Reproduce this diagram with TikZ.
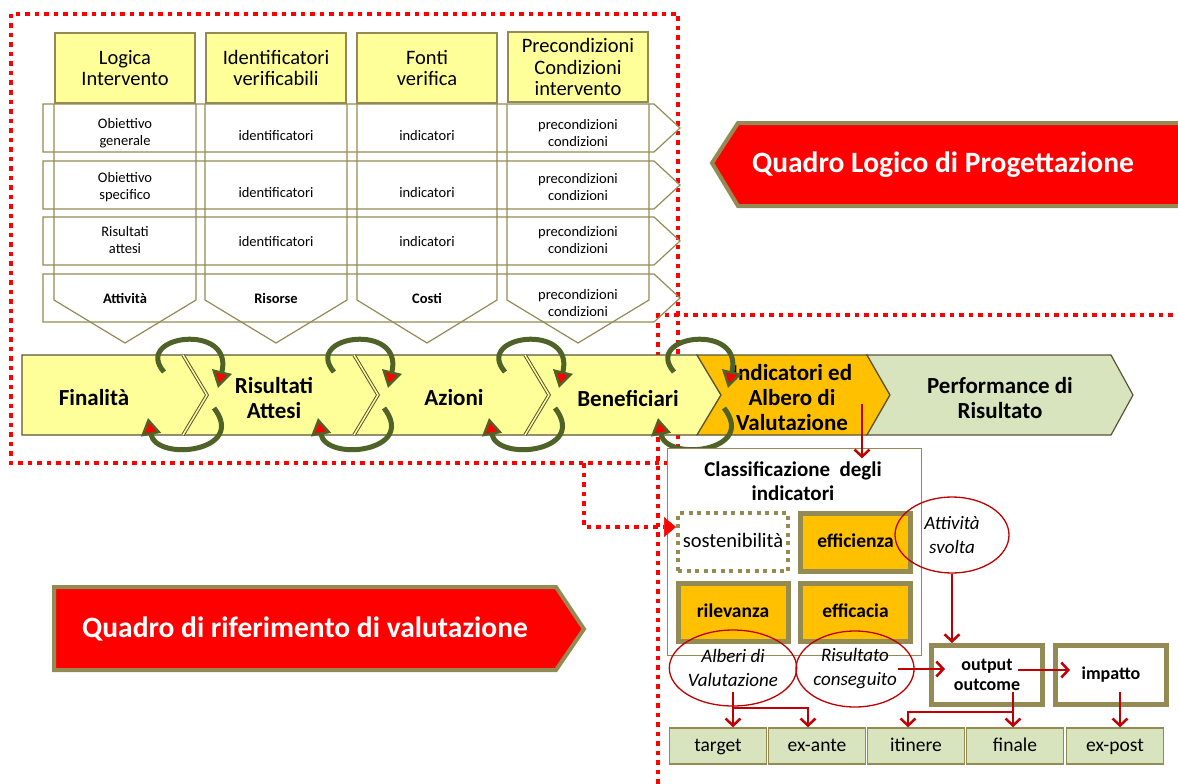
\documentclass[tikz,border=0pt]{standalone}
\usepackage{fontspec}
\setmainfont{Carlito}
\usetikzlibrary{positioning, calc, arrows.meta, shapes.geometric}
\definecolor{olive}{RGB}{148,138,84}
\definecolor{paleyellow}{RGB}{255,255,153}
\definecolor{amber}{RGB}{255,192,0}
\definecolor{sage}{RGB}{215,228,189}
\definecolor{darkred}{RGB}{192,0,0}
\definecolor{loopgreen}{RGB}{79,98,40}
\definecolor{bandline}{RGB}{89,84,56}
\newcommand{\fsz}[2]{\fontsize{#1pt}{#2pt}\selectfont}

\begin{document}
\begin{tikzpicture}[x=1pt, y=-1pt,
      head/.style={draw=olive, line width=2pt, fill=paleyellow, minimum width=140pt, minimum height=70pt, inner sep=1pt, align=center, font=\fsz{20.5}{21.5}},
      cell/.style={align=center, font=\fsz{14.5}{17}},
      rule/.style={draw=olive, line width=1.2pt},
      band/.style={align=center, font=\bfseries\fsz{23}{25}},
      phase/.style={draw=bandline, line width=1.2pt},
      tile/.style={draw=olive, line width=5pt, fill=amber, minimum width=110pt, minimum height=58pt, text height=13pt, text depth=3pt, font=\bfseries\fsz{19.5}{22}},
      oval/.style={draw=darkred, line width=1.3pt, ellipse, minimum width=114pt, minimum height=76pt, inner sep=0pt, align=center, font=\itshape\fsz{19}{24}},
      stage/.style={draw=olive, line width=5pt, fill=white, minimum width=111pt, minimum height=59pt, align=center, font=\bfseries\fsz{18}{20}},
      leaf/.style={draw=olive, line width=1.5pt, fill=sage, minimum width=97pt, minimum height=36pt, text height=13pt, text depth=3pt, font=\fsz{19.5}{22}},
      redframe/.style={draw=red, line width=4pt, dash pattern=on 4.5pt off 5pt},
      swirl/.style={draw=loopgreen, line width=5pt, -{Triangle[length=17pt, width=20pt, fill=red, line width=2.5pt]}},
      arrow/.style={draw=darkred, line width=2.5pt, -{Straight Barb[length=7pt, width=15pt]}},
      banner/.style={draw=olive, line width=4pt, fill=red},
      bannertext/.style={text=white, font=\bfseries\fsz{29.5}{32}}
    ]
    \useasboundingbox (0,0) rectangle (1178,784);

    % Dotted frames
    \draw[redframe] (11,14) rectangle (678,463);
    \draw[redframe] (1182,315) -- (658,315) -- (658,788);

    % Logical framework columns and rows
    \draw[rule] (54,104) -- (54,300) -- (125,343) -- (196,300) -- (196,104);
    \draw[rule] (205,104) -- (205,300) -- (276,343) -- (347,300) -- (347,104);
    \draw[rule] (357,104) -- (357,300) -- (427,343) -- (497,300) -- (497,104);
    \draw[rule] (507,104) -- (507,300) -- (578,343) -- (649,300) -- (649,104);
    \draw[rule] (43,104) -- (654,104) -- (680,128) -- (654,152) -- (43,152) -- cycle;
    \draw[rule] (43,161) -- (654,161) -- (680,185) -- (654,209) -- (43,209) -- cycle;
    \draw[rule] (43,217) -- (654,217) -- (680,241) -- (654,265) -- (43,265) -- cycle;
    \draw[rule] (43,274) -- (654,274) -- (680,298) -- (654,322) -- (43,322) -- cycle;

    % Header row
    \node[head] (logica) at (125,68) {Logica\\Intervento};
    \node[head] (identif) at (276,68) {Identificatori\\verificabili};
    \node[head] (fonti) at (427,68) {Fonti\\verifica};
    \node[head] (precond) at (578,67) {Precondizioni\\Condizioni\\intervento};

    % Rows
    \node[cell] (ogen) at (125,133) {Obiettivo\\generale};
    \node[cell] (ogenid) at (276,136) {identificatori};
    \node[cell] (ogenind) at (427,136) {indicatori};
    \node[cell] (ogenpre) at (578,133) {precondizioni\\condizioni};
    \node[cell] (ospec) at (125,187) {Obiettivo\\specifico};
    \node[cell] (ospecid) at (276,193) {identificatori};
    \node[cell] (ospecind) at (427,193) {indicatori};
    \node[cell] (ospecpre) at (578,187) {precondizioni\\condizioni};
    \node[cell] (ratt) at (125,240) {Risultati\\attesi};
    \node[cell] (rattid) at (276,242) {identificatori};
    \node[cell] (rattind) at (427,242) {indicatori};
    \node[cell] (rattpre) at (578,240) {precondizioni\\condizioni};
    \node[cell] (atti) at (125,298) {\bfseries Attività};
    \node[cell] (risorse) at (276,298) {\bfseries Risorse};
    \node[cell] (costi) at (427,298) {\bfseries Costi};
    \node[cell] (attipre) at (578,303) {precondizioni\\condizioni};

    % Band of phases
    \draw[phase, fill=paleyellow] (22,355) -- (697,355) -- (721,395) -- (697,435) -- (22,435) -- cycle;
    \draw[bandline, line width=1pt, double=paleyellow, double distance=1.5pt] (183,355) -- (207,395) -- (183,435);
    \draw[bandline, line width=1pt, double=paleyellow, double distance=1.5pt] (354,355) -- (378,395) -- (354,435);
    \draw[bandline, line width=1pt, double=paleyellow, double distance=1.5pt] (525,355) -- (549,395) -- (525,435);
    \draw[phase, fill=amber] (697,355) -- (867,355) -- (890,395) -- (867,435) -- (697,435) -- (721,395) -- cycle;
    \draw[phase, fill=sage] (867,355) -- (1111,355) -- (1133,395) -- (1111,435) -- (867,435) -- (890,395) -- cycle;
    \node[band] (fin) at (94,398) {Finalità};
    \node[band] (ris) at (274,398) {Risultati\\Attesi};
    \node[band] (az) at (454,398) {Azioni};
    \node[band] (ben) at (628,398) {Beneficiari};
    \node[band] (ind) at (792,398) {Indicatori ed\\Albero di\\Valutazione};
    \node[band] (perf) at (1000,398) {Performance di\\Risultato};

    % Feedback loops
    \draw[swirl] (164,372) .. controls (132,335) and (234,322) .. (218,388);
    \draw[swirl] (214,408) .. controls (248,452) and (156,462) .. (148,418);
    \draw[swirl] (334,372) .. controls (302,335) and (404,322) .. (388,388);
    \draw[swirl] (384,408) .. controls (418,452) and (326,462) .. (318,418);
    \draw[swirl] (505,372) .. controls (473,335) and (575,322) .. (559,388);
    \draw[swirl] (555,408) .. controls (589,452) and (497,462) .. (489,418);
    \draw[swirl] (674,372) .. controls (642,335) and (744,322) .. (728,388);
    \draw[swirl] (724,408) .. controls (758,452) and (666,462) .. (658,418);

    % Classification of indicators
    \node[draw=olive, line width=1.5pt, fill=white, minimum width=254pt, minimum height=207pt] (classif) at (794.5,552) {};
    \node[font=\bfseries\fsz{21}{23.5}, align=center] (classiftitle) at (793,481) {Classificazione\ \ degli\\indicatori};
    \node[tile, fill=white, line width=4pt, dash pattern=on 4pt off 4.5pt, font=\fsz{20.5}{22}] (sost) at (733,542) {sostenibilità};
    \node[tile] (effz) at (855.5,542) {efficienza};
    \node[tile] (ril) at (733,612) {rilevanza};
    \node[tile] (effc) at (855.5,612) {efficacia};

    % Evaluation chain
    \node[oval] (attiv) at (952,535) {Attività\\svolta};
    \node[oval] (alberi) at (733,668) {Alberi di\\Valutazione};
    \node[oval] (risc) at (855,669) {Risultato\\conseguito};
    \node[stage] (outc) at (987,675) {output\\outcome};
    \node[stage] (imp) at (1111,675) {impatto};
    \node[leaf] (target) at (718,746) {target};
    \node[leaf] (exante) at (817,746) {ex-ante};
    \node[leaf] (itinere) at (916,746) {itinere};
    \node[leaf] (finale) at (1015,746) {finale};
    \node[leaf] (expost) at (1115,746) {ex-post};

    % Banners
    \draw[banner] (712,163) -- (738,123) -- (1186,123) -- (1186,206) -- (738,206) -- cycle;
    \node[bannertext] (qlp) at (943,165) {Quadro Logico di Progettazione};
    \draw[banner] (54,587) -- (556,587) -- (584,629) -- (556,670) -- (54,670) -- cycle;
    \node[bannertext] (qrv) at (305,629) {Quadro di riferimento di valutazione};

    % Links
    \coordinate (gate) at (584,463);
    \coordinate (indout) at (862,404);
    \draw[redframe, -{Triangle[length=12pt, width=20pt, fill=red, line width=0.5pt]}] (gate) |- ([yshift=15pt]sost.west);
    \draw[arrow] (indout) -- (indout |- classiftitle.north);
    \draw[arrow] (attiv.south) -- (attiv.south |- outc.north);
    \draw[arrow] ([xshift=-17pt]risc.east) -- ([xshift=16pt]risc.east -| outc.west);
    \draw[arrow] ([xshift=-27pt, yshift=5pt]outc.east) -- ([xshift=17pt, yshift=5pt]outc.east -| imp.west);
    \draw[arrow] ([yshift=-24pt]alberi.center) -- (alberi.center |- target.north);
    \draw[arrow] ([yshift=-40pt]alberi.center) -| ([xshift=-9pt]exante.north);
    \draw[arrow] ([xshift=26pt, yshift=-17pt]outc.center) -- ([xshift=26pt]outc.center |- finale.north);
    \draw[arrow] ([xshift=26pt, yshift=-37pt]outc.center) -| ([xshift=-8pt]itinere.north);
    \draw[arrow] ([xshift=9pt, yshift=-17pt]imp.center) -- ([xshift=9pt]imp.center |- expost.north);

  \end{tikzpicture}
\end{document}
